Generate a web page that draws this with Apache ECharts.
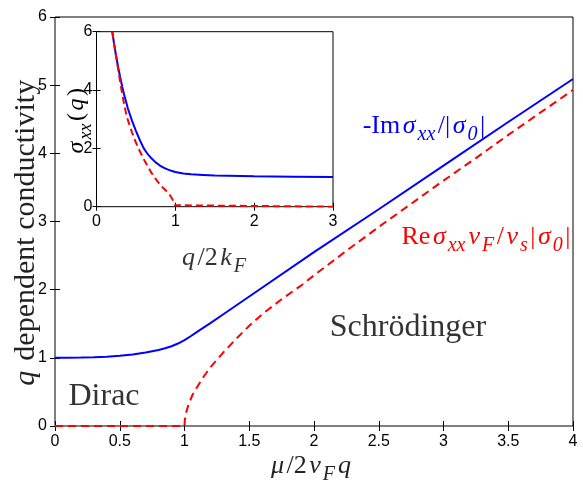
<!DOCTYPE html>
<html><head><meta charset="utf-8">
<script src="https://cdn.jsdelivr.net/npm/echarts@6/dist/echarts.min.js"></script>
<style>html,body{margin:0;padding:0;background:#fff}#c{width:583px;height:485px}</style>
</head><body><div id="c"></div>
<script>
// ---- Main panel data ----
const mainXTicks = ['0','0.5','1','1.5','2','2.5','3','3.5','4'];
const blueMainX = [0, 0.1, 0.2, 0.3, 0.4, 0.5, 0.6, 0.7, 0.8, 0.85, 0.9, 0.95, 1.0, 1.05, 1.1, 1.2, 1.3, 1.5, 2, 2.5, 3, 3.5, 4];
const blueMainY = [1.0, 1.0, 1.004, 1.009, 1.017, 1.03, 1.05, 1.078, 1.115, 1.14, 1.17, 1.21, 1.26, 1.32, 1.385, 1.51, 1.64, 1.9, 2.55, 3.18, 3.82, 4.46, 5.09];
const redMainX = [0, 1.0, 1.002, 1.01, 1.03, 1.06, 1.1, 1.15, 1.2, 1.25, 1.3, 1.4, 1.5, 1.6, 1.75, 1.9, 2.0, 2.25, 2.5, 2.75, 3, 3.25, 3.5, 3.75, 4];
const redMainY = [0, 0, 0.08, 0.18, 0.31, 0.45, 0.58, 0.73, 0.86, 0.97, 1.08, 1.28, 1.47, 1.64, 1.86, 2.06, 2.21, 2.57, 2.92, 3.26, 3.6, 3.93, 4.27, 4.6, 4.93];
// ---- Inset data ----
const insetXTicks = ['0','1','2','3'];
const insetBlueX = [0.2, 0.225, 0.25, 0.275, 0.3, 0.325, 0.35, 0.375, 0.4, 0.45, 0.5, 0.55, 0.6, 0.65, 0.7, 0.75, 0.8, 0.85, 0.9, 0.95, 1.0, 1.1, 1.2, 1.35, 1.5, 2, 2.5, 3];
const insetBlueY = [6.0, 5.55, 5.15, 4.78, 4.45, 4.13, 3.85, 3.6, 3.35, 2.95, 2.6, 2.28, 2.0, 1.8, 1.65, 1.52, 1.42, 1.34, 1.28, 1.23, 1.19, 1.14, 1.11, 1.09, 1.07, 1.04, 1.03, 1.02];
const insetRedX = [0.2, 0.225, 0.25, 0.275, 0.3, 0.325, 0.35, 0.375, 0.4, 0.45, 0.5, 0.55, 0.6, 0.65, 0.7, 0.75, 0.8, 0.85, 0.9, 0.93, 0.96, 0.98, 0.995, 1.0, 3];
const insetRedY = [6.0, 5.55, 5.12, 4.7, 4.28, 3.88, 3.52, 3.2, 2.95, 2.55, 2.2, 1.9, 1.63, 1.38, 1.15, 0.95, 0.78, 0.63, 0.5, 0.4, 0.27, 0.15, 0.05, 0, 0];

const pairs = (xs, ys) => xs.map((x, i) => [x, ys[i]]);
const SERIF = "'Liberation Serif', 'DejaVu Serif', serif";
const SANS = "'Liberation Sans', Arial, sans-serif";

const chart = echarts.init(document.getElementById('c'), null, {renderer: 'canvas'});

function richSet(size, subRatio) {
  const sub = Math.round(size * (subRatio || 0.75));
  const lh = size + 4;
  const d = Math.round(size * 0.15);
  return {
    r: {fontFamily: SERIF, fontSize: size, lineHeight: lh, padding: [0,1,0,1], verticalAlign: 'middle'},
    i: {fontFamily: SERIF, fontSize: size, fontStyle: 'italic', lineHeight: lh, padding: [0,1.5,0,1.5], verticalAlign: 'middle'},
    s: {fontFamily: SERIF, fontSize: sub, fontStyle: 'italic', lineHeight: lh + 2 * d, padding: [0,1.5,0,0.5], verticalAlign: 'bottom'}
  };
}
function txt(x, y, text, color, size, opts, subRatio) {
  return Object.assign({
    type: 'text', x: x, y: y, z: 50,
    style: {text: text, fill: color, align: 'center', verticalAlign: 'middle', rich: richSet(size, subRatio), font: size + 'px ' + SERIF}
  }, opts || {});
}

const tickStyle = {color: '#000', width: 1};
const labelStyle = {color: '#000', fontFamily: SANS, fontSize: 16};

const option = {
  animation: false,
  backgroundColor: '#fff',
  grid: [
    {left: 55, right: 10, top: 17, bottom: 59, show: true, borderColor: '#000', borderWidth: 1, backgroundColor: '#fff', z: 0},
    {left: 96.5, top: 31.7, width: 236.5, height: 175, show: true, borderColor: '#000', borderWidth: 1, backgroundColor: '#fff', z: 10}
  ],
  xAxis: [
    {gridIndex: 0, type: 'value', min: 0, max: 4, interval: 0.5, position: 'bottom',
     axisLine: {show: false}, splitLine: {show: false},
     axisTick: {inside: true, length: 5, lineStyle: tickStyle},
     axisLabel: Object.assign({margin: 8, formatter: v => mainXTicks[Math.round(v*2)]}, labelStyle)},
    {gridIndex: 0, type: 'value', min: 0, max: 4, interval: 0.5, position: 'top',
     axisLine: {show: false}, splitLine: {show: false}, axisLabel: {show: false},
     axisTick: {inside: true, length: 5, lineStyle: tickStyle}},
    {gridIndex: 1, type: 'value', min: 0, max: 3, interval: 1, position: 'bottom', z: 11,
     axisLine: {show: false}, splitLine: {show: false},
     axisTick: {inside: true, length: 4, lineStyle: tickStyle},
     axisLabel: Object.assign({margin: 7, formatter: v => insetXTicks[Math.round(v)]}, labelStyle)},
    {gridIndex: 1, type: 'value', min: 0, max: 3, interval: 1, position: 'top', z: 11,
     axisLine: {show: false}, splitLine: {show: false}, axisLabel: {show: false},
     axisTick: {inside: true, length: 4, lineStyle: tickStyle}}
  ],
  yAxis: [
    {gridIndex: 0, type: 'value', min: 0, max: 6, interval: 1, position: 'left',
     axisLine: {show: false}, splitLine: {show: false},
     axisTick: {inside: true, length: 5, lineStyle: tickStyle},
     axisLabel: Object.assign({margin: 8}, labelStyle)},
    {gridIndex: 0, type: 'value', min: 0, max: 6, interval: 1, position: 'right',
     axisLine: {show: false}, splitLine: {show: false}, axisLabel: {show: false},
     axisTick: {inside: true, length: 5, lineStyle: tickStyle}},
    {gridIndex: 1, type: 'value', min: 0, max: 6, interval: 2, position: 'left', z: 11,
     axisLine: {show: false}, splitLine: {show: false},
     axisTick: {inside: true, length: 4, lineStyle: tickStyle},
     axisLabel: Object.assign({margin: 4}, labelStyle)},
    {gridIndex: 1, type: 'value', min: 0, max: 6, interval: 2, position: 'right', z: 11,
     axisLine: {show: false}, splitLine: {show: false}, axisLabel: {show: false},
     axisTick: {inside: true, length: 4, lineStyle: tickStyle}}
  ],
  series: [
    {type: 'line', xAxisIndex: 0, yAxisIndex: 0, data: pairs(blueMainX, blueMainY), showSymbol: false,
     lineStyle: {color: '#0000ff', width: 2}, z: 5},
    {type: 'line', xAxisIndex: 0, yAxisIndex: 0, data: pairs(redMainX, redMainY), showSymbol: false,
     lineStyle: {color: '#ff0000', width: 2, type: [8, 5]}, z: 5},
    {type: 'line', xAxisIndex: 2, yAxisIndex: 2, data: pairs(insetBlueX, insetBlueY), showSymbol: false,
     lineStyle: {color: '#0000ff', width: 2}, z: 15},
    {type: 'line', xAxisIndex: 2, yAxisIndex: 2, data: pairs(insetRedX, insetRedY), showSymbol: false,
     lineStyle: {color: '#ff0000', width: 2, type: [7, 4]}, z: 15}
  ],
  graphic: [
    txt(26, 233, '{i|q}{r| dependent conductivity}', '#222', 30, {rotation: Math.PI/2}),
    txt(311, 466, '{i|μ}{r|/2}{i|v}{s|F}{i|q}', '#222', 26),
    txt(214, 258, '{i|q}{r|/2}{i|k}{s|F}', '#333', 26),
    txt(77, 121, '{i|σ}{s|xx}{r|(}{i|q}{r|)}', '#000', 24, {rotation: Math.PI/2}),
    txt(424, 126, '{r|-Im}{i|σ}{s|xx}{r|/|}{i|σ}{s|0}{r||}', '#0000ff', 26),
    txt(486, 237, '{r|Re}{i|σ}{s|xx}{i|v}{s|F}{r|/}{i|v}{s|s}{r||}{i|σ}{s|0}{r||}', '#ff0000', 26),
    txt(408, 328, 'Schrödinger', '#333', 32),
    txt(104, 397, 'Dirac', '#333', 32)
  ]
};
chart.setOption(option);
</script></body></html>
